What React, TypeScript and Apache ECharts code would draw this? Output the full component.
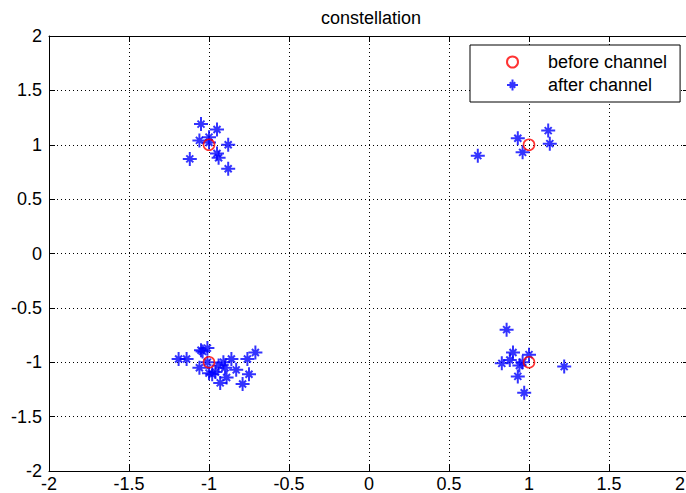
import React, { useEffect, useRef } from "react";
import * as echarts from "echarts";

const titleText = "constellation";
const seriesNames = ["before channel", "after channel"];

const beforeI = [-1, 1, -1, 1];
const beforeQ = [1, 1, -1, -1];

const afterI = [
  -1.05, -0.95, -1.06, -1.0, -0.88, -0.95, -0.94, -1.12, -0.88, -1.0,
  0.93, 1.12, 1.13, 0.96, 0.68,
  -1.19, -1.14, -1.05, -1.01, -1.04, -1.01, -1.06, -1.0, -0.96, -0.94, -0.91,
  -0.9, -0.86, -0.93, -0.89, -0.83, -0.76, -0.71, -0.75, -0.79, -0.98,
  0.86, 0.9, 0.88, 0.83, 1.0, 0.94, 0.93, 0.97, 1.22, 0.96,
];
const afterQ = [
  1.19, 1.14, 1.04, 1.07, 1.0, 0.92, 0.88, 0.87, 0.78, 1.02,
  1.06, 1.13, 1.01, 0.93, 0.9,
  -0.97, -0.97, -0.89, -0.87, -0.9, -1.0, -1.05, -1.1, -1.09, -1.03, -1.0,
  -1.05, -0.97, -1.19, -1.14, -1.07, -0.97, -0.91, -1.11, -1.2, -1.11,
  -0.7, -0.91, -0.98, -1.01, -0.93, -1.03, -1.13, -1.28, -1.04, -1.0,
];

const axisMin = -2;
const axisMax = 2;
const axisStep = 0.5;

const STAR = "path://M7,0L7,14M0,7L14,7M3.5,3.5L10.5,10.5M3.5,10.5L10.5,3.5";
const FONT = "Liberation Sans";

export default function App() {
  const ref = useRef<HTMLDivElement>(null);
  useEffect(() => {
    if (!ref.current) return;
    const chart = echarts.init(ref.current, undefined, { renderer: "svg" });
    const before = beforeI.map((v, i) => [v, beforeQ[i]]);
    const after = afterI.map((v, i) => [v, afterQ[i]]);
    const splitLine = { show: true, lineStyle: { color: "#000", type: [1, 3] as any, width: 1 } };
    const axisLine = { show: true, onZero: false, lineStyle: { color: "#000", width: 1 } };
    const axisTick = { show: true, inside: true, length: 6, lineStyle: { color: "#000" } };
    const label = { color: "#000", fontFamily: FONT, fontSize: 18, showMinLabel: true, showMaxLabel: true };
    chart.setOption({
      animation: false,
      backgroundColor: "#fff",
      title: {
        text: titleText,
        left: 366,
        textAlign: "center",
        top: 4,
        textStyle: { fontFamily: FONT, fontSize: 18, fontWeight: "normal", color: "#000" },
      },
      grid: { left: 49, width: 640, top: 36, height: 435, containLabel: false, outerBoundsMode: "none" },
      legend: {
        data: seriesNames,
        orient: "vertical",
        left: 470,
        top: 45,
        backgroundColor: "#fff",
        borderColor: "#000",
        borderWidth: 1,
        padding: [8, 13, 8, 36],
        itemWidth: 11,
        itemHeight: 11,
        itemGap: 5,
        textStyle: { fontFamily: FONT, fontSize: 18, color: "#000", padding: [0, 0, 0, 25] },
      },
      xAxis: [
        {
          type: "value", min: axisMin, max: axisMax, interval: axisStep, position: "bottom",
          axisLine, axisTick, splitLine,
          axisLabel: {
            ...label, margin: 4, alignMaxLabel: "right",
            formatter: (v: number) => (v === axisMax ? `{m|${v}}` : `${v}`),
            rich: { m: { color: "#000", fontFamily: FONT, fontSize: 18, padding: [0, 4, 0, 0] } },
          },
        },
        {
          type: "value", min: axisMin, max: axisMax, interval: axisStep, position: "top",
          axisLine, axisTick, splitLine: { show: false }, axisLabel: { show: false },
        },
      ],
      yAxis: [
        {
          type: "value", min: axisMin, max: axisMax, interval: axisStep, position: "left",
          axisLine, axisTick, splitLine, axisLabel: { ...label, margin: 7 },
        },
        {
          type: "value", min: axisMin, max: axisMax, interval: axisStep, position: "right",
          axisLine, axisTick, splitLine: { show: false }, axisLabel: { show: false },
        },
      ],
      series: [
        {
          name: seriesNames[0],
          type: "scatter",
          data: before,
          symbol: "circle",
          symbolSize: 11,
          z: 3,
          itemStyle: { color: "rgba(255,255,255,0)", borderColor: "#ff0000", borderWidth: 1.6 },
        },
        {
          name: seriesNames[1],
          type: "scatter",
          data: after,
          symbol: STAR,
          symbolSize: 14,
          z: 2,
          itemStyle: { color: "#0000ff", borderColor: "#0000ff", borderWidth: 2 },
        },
      ],
    });
    return () => chart.dispose();
  }, []);
  return <div ref={ref} style={{ position: "fixed", left: 0, top: 0, width: 686, height: 493 }} />;
}
